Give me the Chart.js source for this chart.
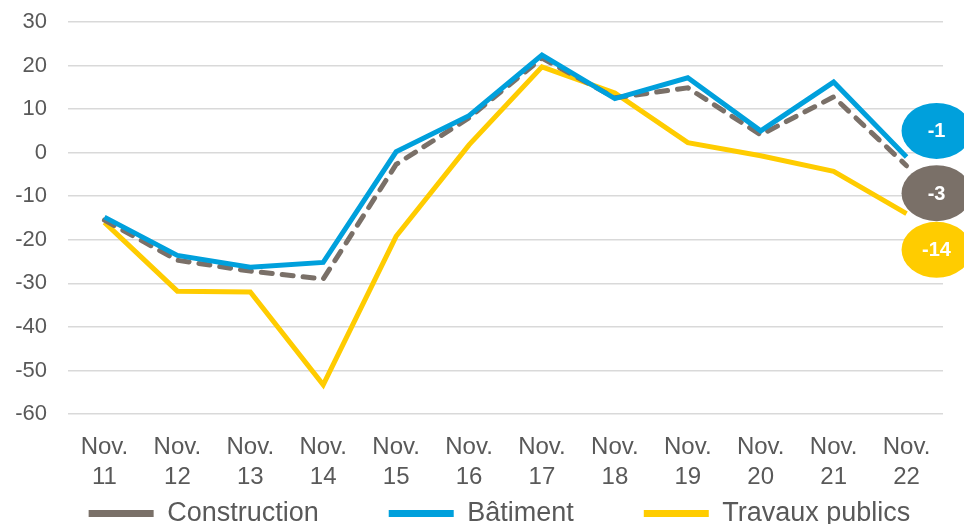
<!DOCTYPE html>
<html>
<head>
<meta charset="utf-8">
<script src="https://cdn.jsdelivr.net/npm/chart.js@4"></script>
<style>
  html, body { margin: 0; padding: 0; background: #fff; }
  #wrap { width: 964px; height: 524px; }
</style>
</head>
<body>
<div id="wrap"><canvas id="chart" width="964" height="524"></canvas></div>
<script>
const categories = [['Nov.', '11'], ['Nov.', '12'], ['Nov.', '13'], ['Nov.', '14'], ['Nov.', '15'], ['Nov.', '16'],
                    ['Nov.', '17'], ['Nov.', '18'], ['Nov.', '19'], ['Nov.', '20'], ['Nov.', '21'], ['Nov.', '22']];
const construction = [-15.5, -24.7, -27.2, -29, -2.7, 8, 21.7, 12.6, 14.9, 4.1, 12.8, -3];
const batiment = [-14.8, -23.6, -26.3, -25.2, 0.2, 8.5, 22.4, 12.4, 17.2, 5, 16.2, -1];
const travauxPublics = [-16, -31.8, -32, -53.3, -19.2, 1.8, 19.7, 13.7, 2.3, -0.7, -4.3, -14];
const lastLabels = ['-3', '-1', '-14'];
const yTicks = { min: -60, max: 30, step: 10 };

const GREY = '#7a7068';
const BLUE = '#00a0dc';
const YELLOW = '#ffcc00';
const FONT = "'Liberation Sans', Arial, sans-serif";
// trailing blanks to space out the legend entries like the original
const legendGaps = [' '.repeat(8), ' '.repeat(8), ''];

// bubbles with the latest value, stacked at the right edge
const endBubbles = {
    id: 'endBubbles',
    afterDatasetsDraw(chart, args, opts) {
        const ctx = chart.ctx;
        const x = chart.scales.x.getPixelForValue(categories.length - 1) + opts.offsetX;
        ctx.save();
        opts.order.forEach((di, k) => {
            const ds = chart.data.datasets[di];
            const y = chart.scales.y.getPixelForValue(opts.positions[k]);
            ctx.beginPath();
            ctx.ellipse(x, y, 35, 28, 0, 0, Math.PI * 2);
            ctx.fillStyle = ds.borderColor;
            ctx.fill();
            ctx.fillStyle = '#fff';
            ctx.font = 'bold 20px ' + FONT;
            ctx.textAlign = 'center';
            ctx.textBaseline = 'middle';
            ctx.fillText(lastLabels[di], x, y + 1);
        });
        ctx.restore();
    }
};

new Chart(document.getElementById('chart'), {
    type: 'line',
    data: {
        labels: categories,
        datasets: [{
            label: 'Construction',
            data: construction,
            borderColor: GREY,
            backgroundColor: GREY,
            borderWidth: 5,
            borderDash: [11, 10],
            borderCapStyle: 'round',
            pointRadius: 0,
            order: 2
        }, {
            label: 'Bâtiment',
            data: batiment,
            borderColor: BLUE,
            backgroundColor: BLUE,
            borderWidth: 5,
            pointRadius: 0,
            order: 1
        }, {
            label: 'Travaux publics',
            data: travauxPublics,
            borderColor: YELLOW,
            backgroundColor: YELLOW,
            borderWidth: 5,
            pointRadius: 0,
            order: 3
        }]
    },
    options: {
        responsive: false,
        animation: false,
        layout: { autoPadding: false, padding: { top: 22, left: 0, right: -35, bottom: -13 } },
        plugins: {
            legend: {
                position: 'bottom',
                labels: {
                    font: { family: FONT, size: 27 },
                    color: '#595959',
                    usePointStyle: true,
                    pointStyle: 'line',
                    pointStyleWidth: 65,
                    boxHeight: 20,
                    padding: 10,
                    sort: (a, b) => a.datasetIndex - b.datasetIndex,
                    generateLabels: chart => Chart.defaults.plugins.legend.labels.generateLabels(chart)
                        .map(item => ({
                            ...item,
                            text: item.text + legendGaps[item.datasetIndex],
                            lineWidth: 7,
                            lineDash: item.lineDash && item.lineDash.length ? [12, 13] : []
                        }))
                }
            },
            tooltip: { enabled: false },
            endBubbles: { offsetX: 30, order: [1, 0, 2], positions: [5, -9.3, -22.3] }
        },
        scales: {
            x: {
                offset: true,
                grid: { display: false, drawTicks: false },
                border: { display: false },
                ticks: { font: { family: FONT, size: 24, lineHeight: 1.25 }, color: '#595959', maxRotation: 0, padding: 18 },
                afterFit: s => { s.height = 76; }
            },
            y: {
                min: yTicks.min,
                max: yTicks.max,
                // invisible tick marks give the label gap without extra top padding
                grid: { color: '#d9d9d9', lineWidth: 1.5, drawTicks: true, tickLength: 21, tickColor: 'rgba(0,0,0,0)' },
                border: { display: false },
                ticks: { stepSize: yTicks.step, font: { family: FONT, size: 22 }, color: '#595959', padding: 0 },
                afterFit: s => { s.width = 68; }
            },
            // empty right-hand strip, keeps the plot narrower than the legend
            yRight: {
                type: 'linear',
                position: 'right',
                display: true,
                grid: { display: false, drawTicks: false },
                border: { display: false },
                ticks: { display: false },
                afterFit: s => { s.width = 56; }
            }
        }
    },
    plugins: [endBubbles]
});
</script>
</body>
</html>
